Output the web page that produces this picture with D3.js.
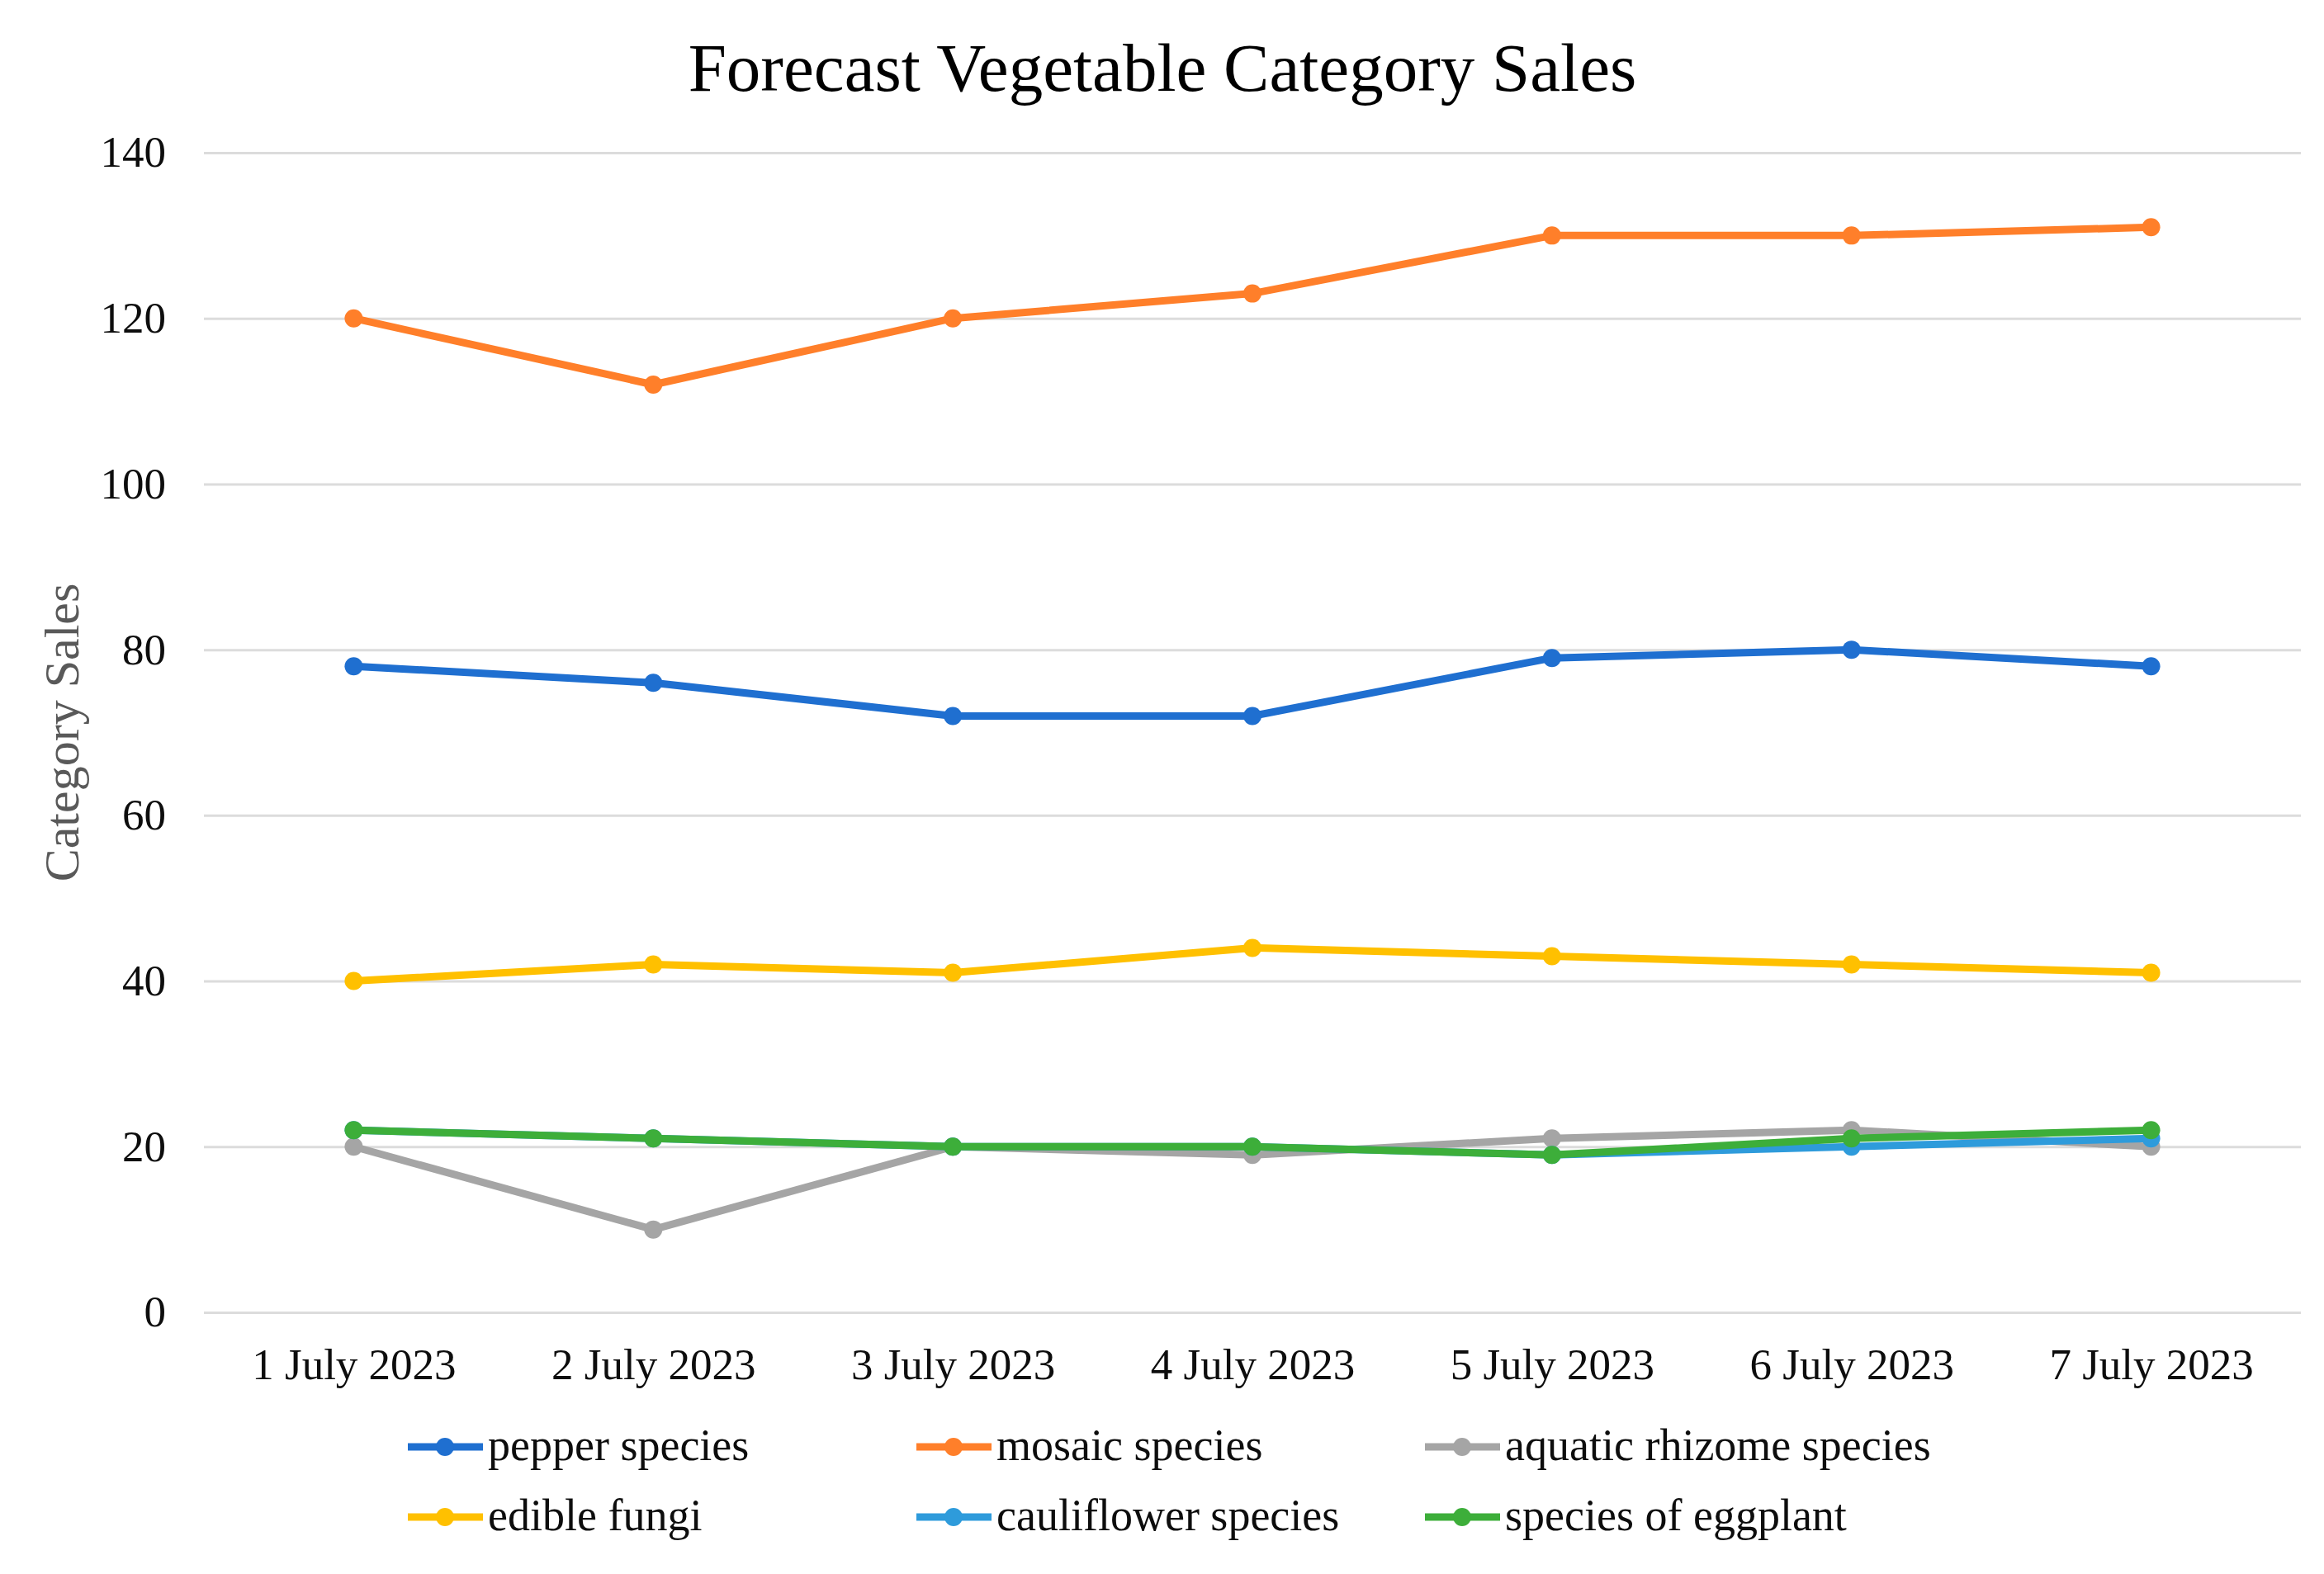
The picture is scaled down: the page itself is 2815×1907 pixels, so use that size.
<!DOCTYPE html>
<html>
<head>
<meta charset="utf-8">
<script src="https://cdn.jsdelivr.net/npm/d3@7"></script>
<style>
  body { margin: 0; background: #fff; }
  text { font-family: "Liberation Serif", "Times New Roman", serif; }
</style>
</head>
<body>
<div id="chart"></div>
<script>
const W = 2815, H = 1907;

// data
const dates = ["1 July 2023", "2 July 2023", "3 July 2023", "4 July 2023", "5 July 2023", "6 July 2023", "7 July 2023"];
const seriesNames = ["pepper species", "mosaic species", "aquatic rhizome species", "edible fungi", "cauliflower species", "species of eggplant"];
const pepper      = [78, 76, 72, 72, 79, 80, 78];
const mosaic      = [120, 112, 120, 123, 130, 130, 131];
const aquatic     = [20, 10, 20, 19, 21, 22, 20];
const fungi       = [40, 42, 41, 44, 43, 42, 41];
const cauliflower = [22, 21, 20, 20, 19, 20, 21];
const eggplant    = [22, 21, 20, 20, 19, 21, 22];
const yTicks = [0, 20, 40, 60, 80, 100, 120, 140];

const colors = ["#1F6FD0", "#FF7F2A", "#A5A5A5", "#FFC000", "#2E9BDB", "#3DAE3A"];
const allValues = [pepper, mosaic, aquatic, fungi, cauliflower, eggplant];

const margin = {left: 247, right: 28, top: 185, bottom: 317};
const innerW = W - margin.left - margin.right;
const innerH = H - margin.top - margin.bottom;

const svg = d3.select("#chart").append("svg")
  .attr("width", W).attr("height", H);

const g = svg.append("g").attr("transform", `translate(${margin.left},${margin.top})`);

const x = d3.scalePoint().domain(dates).range([0, innerW]).padding(0.5);
const y = d3.scaleLinear().domain([0, 140]).range([innerH, 0]);

// title
svg.append("text")
  .attr("x", 1408).attr("y", 110)
  .attr("text-anchor", "middle")
  .attr("font-size", 83)
  .attr("fill", "#000")
  .text("Forecast Vegetable Category Sales");

// y axis + gridlines
const yAxis = g.append("g")
  .call(d3.axisLeft(y).tickValues(yTicks).tickSize(-innerW).tickPadding(46));
yAxis.select(".domain").remove();
yAxis.selectAll(".tick line").attr("stroke", "#dcdcdc").attr("stroke-width", 3);
yAxis.selectAll(".tick text")
  .attr("font-size", 53)
  .attr("font-family", "Liberation Serif")
  .attr("fill", "#0d0d0d");

// x axis labels
const xAxis = g.append("g")
  .attr("transform", `translate(0,${innerH})`)
  .call(d3.axisBottom(x).tickSize(0).tickPadding(48));
xAxis.select(".domain").remove();
xAxis.selectAll(".tick text")
  .attr("font-size", 53)
  .attr("font-family", "Liberation Serif")
  .attr("fill", "#0d0d0d")
  .attr("dy", "0.62em");

// y axis title
svg.append("text")
  .attr("transform", `translate(95,${margin.top + innerH / 2}) rotate(-90)`)
  .attr("text-anchor", "middle")
  .attr("font-size", 60)
  .attr("fill", "#595959")
  .text("Category Sales");

// lines
const line = d3.line()
  .x((d, i) => x(dates[i]))
  .y(d => y(d));

allValues.forEach((vals, k) => {
  g.append("path")
    .datum(vals)
    .attr("d", line)
    .attr("fill", "none")
    .attr("stroke", colors[k])
    .attr("stroke-width", 9)
    .attr("stroke-linejoin", "round");
  g.selectAll(".pt" + k)
    .data(vals)
    .enter().append("circle")
      .attr("cx", (d, i) => x(dates[i]))
      .attr("cy", d => y(d))
      .attr("r", 11)
      .attr("fill", colors[k]);
});

// legend
const legX = [494, 1110, 1726];
const legY = [1753, 1838];
seriesNames.forEach((name, k) => {
  const lx = legX[k % 3], ly = legY[Math.floor(k / 3)];
  const lg = svg.append("g");
  lg.append("line")
    .attr("x1", lx).attr("x2", lx + 91)
    .attr("y1", ly).attr("y2", ly)
    .attr("stroke", colors[k]).attr("stroke-width", 9);
  lg.append("circle")
    .attr("cx", lx + 45).attr("cy", ly).attr("r", 11)
    .attr("fill", colors[k]);
  lg.append("text")
    .attr("x", lx + 97).attr("y", ly + 16)
    .attr("font-size", 54)
    .attr("fill", "#0d0d0d")
    .text(name);
});
</script>
</body>
</html>
